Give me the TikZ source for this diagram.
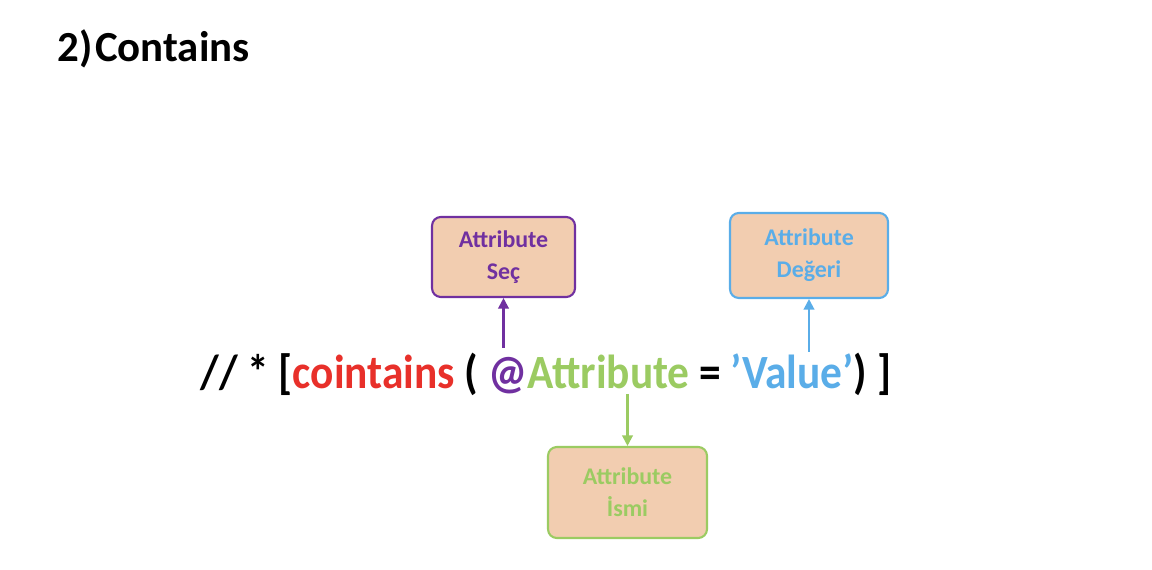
\documentclass[tikz,border=0pt]{standalone}
\usepackage{fontspec}
\setmainfont{Carlito}
\usepackage{xcolor}
\usetikzlibrary{arrows.meta}
\definecolor{kirmizi}{HTML}{E8302A}
\definecolor{mor}{HTML}{7030A0}
\definecolor{yesil}{HTML}{9BCB62}
\definecolor{mavi}{HTML}{5AADE8}
\definecolor{ten}{HTML}{F2CDB0}

\begin{document}
\begin{tikzpicture}[x=0.02cm,y=-0.02cm,
    kutu/.style={draw,line width=1.2pt,fill=ten,rounded corners=5pt,align=center,
      font=\fontsize{13.6}{18.2}\selectfont\bfseries},
    ok/.style={line width=1.2pt,-{Triangle[length=6pt,width=6pt]}}]
    \useasboundingbox (0,0) rectangle (1152,570);
    \node[anchor=base west,inner sep=0pt,font=\fontsize{24.4}{28}\selectfont\bfseries]
      (baslik) at (57,62) {2)\kern1.5pt Contains};
    \begin{scope}[shift={(200,389)},yscale=1.1]
      \node[transform shape,anchor=base west,inner sep=0pt,font=\fontsize{24.7}{28}\selectfont\bfseries]
        (ifade) at (0,0) {// * [\textcolor{kirmizi}{cointains} ( \textcolor{mor}{@}\textcolor{yesil}{Attribute} = \textcolor{mavi}{’Value’}) ]};
    \end{scope}
    \node[kutu,draw=mor,text=mor,minimum width=2.86cm,minimum height=1.6cm]
      (sec) at (503.5,257) {Attribute\\Seç};
    \node[kutu,draw=mavi,text=mavi,minimum width=3.16cm,minimum height=1.7cm]
      (deger) at (809,255.5) {Attribute\\Değeri};
    \node[kutu,draw=yesil,text=yesil,minimum width=3.18cm,minimum height=1.82cm]
      (isim) at (627.5,492.5) {Attribute\\İsmi};
    \coordinate (p1) at (503.5,348);
    \coordinate (p2) at (809,352);
    \coordinate (p3) at (627.5,394);
    \draw[ok,mor] (p1) -- (sec);
    \draw[ok,mavi] (p2) -- (deger);
    \draw[ok,yesil] (p3) -- (isim);
  \end{tikzpicture}
\end{document}
